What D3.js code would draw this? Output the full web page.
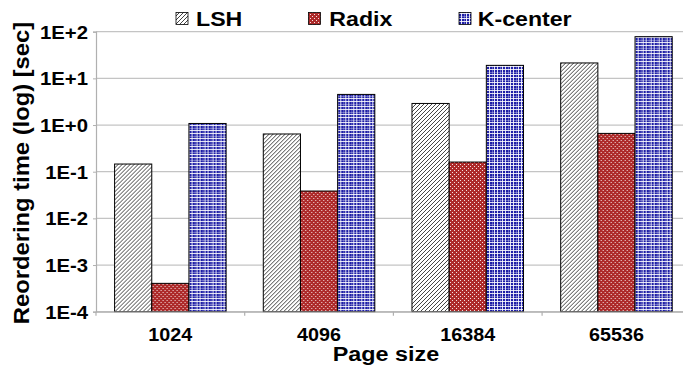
<!DOCTYPE html>
<html><head><meta charset="utf-8">
<script src="https://cdn.jsdelivr.net/npm/d3@7"></script>
<style>html,body{margin:0;padding:0;background:#fff;overflow:hidden}svg{display:block}text{font-family:"Liberation Sans",Arial,sans-serif;font-weight:bold;fill:#000}</style>
</head><body>
<svg id="c" width="683" height="368"></svg>
<script>
const categories = ["1024", "4096", "16384", "65536"];
const seriesNames = ["LSH", "Radix", "K-center"];
const lsh = [0.146, 0.643, 2.9, 21.4];
const radix = [0.000405, 0.0385, 0.161, 0.662];
const kcenter = [1.08, 4.53, 19.0, 78.2];
const yTickValues = [1e-4, 1e-3, 1e-2, 1e-1, 1e0, 1e1, 1e2];
const yTickLabels = ["1E-4", "1E-3", "1E-2", "1E-1", "1E+0", "1E+1", "1E+2"];

(function () {
const series = [lsh, radix, kcenter];
const patIds = ["pLSH", "pRadix", "pK"];
const SX = 1.13; // horizontal text stretch

const svg = d3.select("#c");
const defs = svg.append("defs");
// LSH hatch
const p1 = defs.append("pattern").attr("id", "pLSH").attr("patternUnits", "userSpaceOnUse").attr("width", 4).attr("height", 4);
p1.append("rect").attr("width", 4).attr("height", 4).attr("fill", "#fff");
p1.append("path").attr("d", "M-1,1 l2,-2 M0,4 l4,-4 M3,5 l2,-2").attr("stroke", "#222").attr("stroke-width", 0.85);
// Radix dots
const p2 = defs.append("pattern").attr("id", "pRadix").attr("patternUnits", "userSpaceOnUse").attr("width", 4).attr("height", 4);
p2.append("rect").attr("width", 4).attr("height", 4).attr("fill", "#ad2a2a");
p2.append("rect").attr("x", 0).attr("y", 0).attr("width", 1).attr("height", 1).attr("fill", "#f6e2e2");
p2.append("rect").attr("x", 2).attr("y", 2).attr("width", 1).attr("height", 1).attr("fill", "#f6e2e2");
// K-center plaid
const p3 = defs.append("pattern").attr("id", "pK").attr("patternUnits", "userSpaceOnUse").attr("width", 8).attr("height", 8);
p3.append("rect").attr("width", 8).attr("height", 8).attr("fill", "#1e1ea6");
p3.append("rect").attr("x", 2).attr("width", 1).attr("height", 8).attr("fill", "rgba(255,255,255,0.85)");
p3.append("rect").attr("x", 5).attr("width", 1).attr("height", 8).attr("fill", "rgba(255,255,255,0.85)");
p3.append("rect").attr("y", 2).attr("width", 8).attr("height", 1).attr("fill", "rgba(255,255,255,0.85)");
p3.append("rect").attr("y", 5).attr("width", 8).attr("height", 1).attr("fill", "rgba(255,255,255,0.85)");
p3.append("rect").attr("x", 0).attr("width", 1).attr("height", 8).attr("fill", "rgba(255,255,255,0.3)");
p3.append("rect").attr("y", 0).attr("width", 8).attr("height", 1).attr("fill", "rgba(255,255,255,0.3)");

const mLeft = 96, mTop = 31.7, mBottom = 311.7, step = 148.7;
const x = d3.scaleBand().domain(categories).range([mLeft, mLeft + step * categories.length]).paddingInner(0.25).paddingOuter(0.125).align(0.5);
const xs = d3.scaleBand().domain(d3.range(series.length)).range([0, x.bandwidth()]);
const y = d3.scaleLog().domain([1e-4, 1e2]).range([mBottom, mTop]);

// gridlines
svg.append("g").selectAll("line").data(yTickValues).join("line")
  .attr("x1", mLeft).attr("x2", 683).attr("y1", d => y(d)).attr("y2", d => y(d))
  .attr("stroke", "#c4c4c4").attr("stroke-width", 1.2);

// y axis
const yAxis = d3.axisLeft(y).tickValues(yTickValues).tickSize(3).tickFormat((d, i) => yTickLabels[i]);
const gy = svg.append("g").attr("transform", `translate(${mLeft},0)`).call(yAxis);
gy.select(".domain").attr("stroke", "#b0b0b0").attr("stroke-width", 1.2);
gy.selectAll(".tick line").attr("stroke", "#b0b0b0");
gy.selectAll(".tick text").attr("x", null).attr("dy", null).attr("font-size", 17.5).attr("text-anchor", "end")
  .attr("transform", `translate(-8,6.3) scale(1.16,1)`).attr("fill", "#000").style("font-family", "'Liberation Sans',Arial,sans-serif").style("font-weight", "bold");

// bars
const groups = svg.append("g").selectAll("g").data(categories).join("g").attr("transform", d => `translate(${x(d)},0)`);
groups.selectAll("rect").data((c, i) => series.map((s, k) => ({k, v: s[i]}))).join("rect")
  .attr("x", d => xs(d.k)).attr("width", xs.bandwidth())
  .attr("y", d => y(d.v)).attr("height", d => mBottom - y(d.v))
  .attr("fill", d => `url(#${patIds[d.k]})`).attr("stroke", "#000").attr("stroke-width", 1);

// x axis
const xAxis = d3.axisBottom(x).tickSize(0).tickFormat(d => d);
const gx = svg.append("g").attr("transform", `translate(0,${mBottom})`).call(xAxis);
gx.select(".domain").attr("stroke", "#b0b0b0").attr("stroke-width", 1.2);
gx.selectAll(".tick text").attr("y", null).attr("dy", null).attr("font-size", 17.5)
  .attr("transform", `translate(0,29.5) scale(${SX},1)`).attr("fill", "#000").style("font-family", "'Liberation Sans',Arial,sans-serif").style("font-weight", "bold");
// category boundary ticks
svg.append("g").selectAll("line").data(d3.range(categories.length + 1)).join("line")
  .attr("x1", i => mLeft + i * x.step()).attr("x2", i => mLeft + i * x.step())
  .attr("y1", mBottom).attr("y2", mBottom + 4).attr("stroke", "#b0b0b0").attr("stroke-width", 1.2);

// axis titles
svg.append("text").attr("text-anchor", "middle").attr("font-size", 20.5)
  .attr("transform", `translate(386,361) scale(1.14,1)`).text("Page size");
svg.append("text").attr("text-anchor", "middle").attr("font-size", 20.5)
  .attr("transform", `translate(28.5,173) rotate(-90) scale(1.16,1.12)`).text("Reordering time (log) [sec]");

// legend
const legX = [176, 308.5, 459];
const legTX = [196, 329.3, 477.7];
const leg = svg.append("g").selectAll("g").data(seriesNames).join("g");
leg.append("rect").attr("x", (d, i) => legX[i]).attr("y", 12.5).attr("width", 12).attr("height", 12)
  .attr("fill", (d, i) => `url(#${patIds[i]})`).attr("stroke", "#000").attr("stroke-width", 0.8);
leg.append("text").attr("font-size", 20.5).attr("transform", (d, i) => `translate(${legTX[i]},26.3) scale(${SX},1)`).text(d => d);
})();
</script>
</body></html>
